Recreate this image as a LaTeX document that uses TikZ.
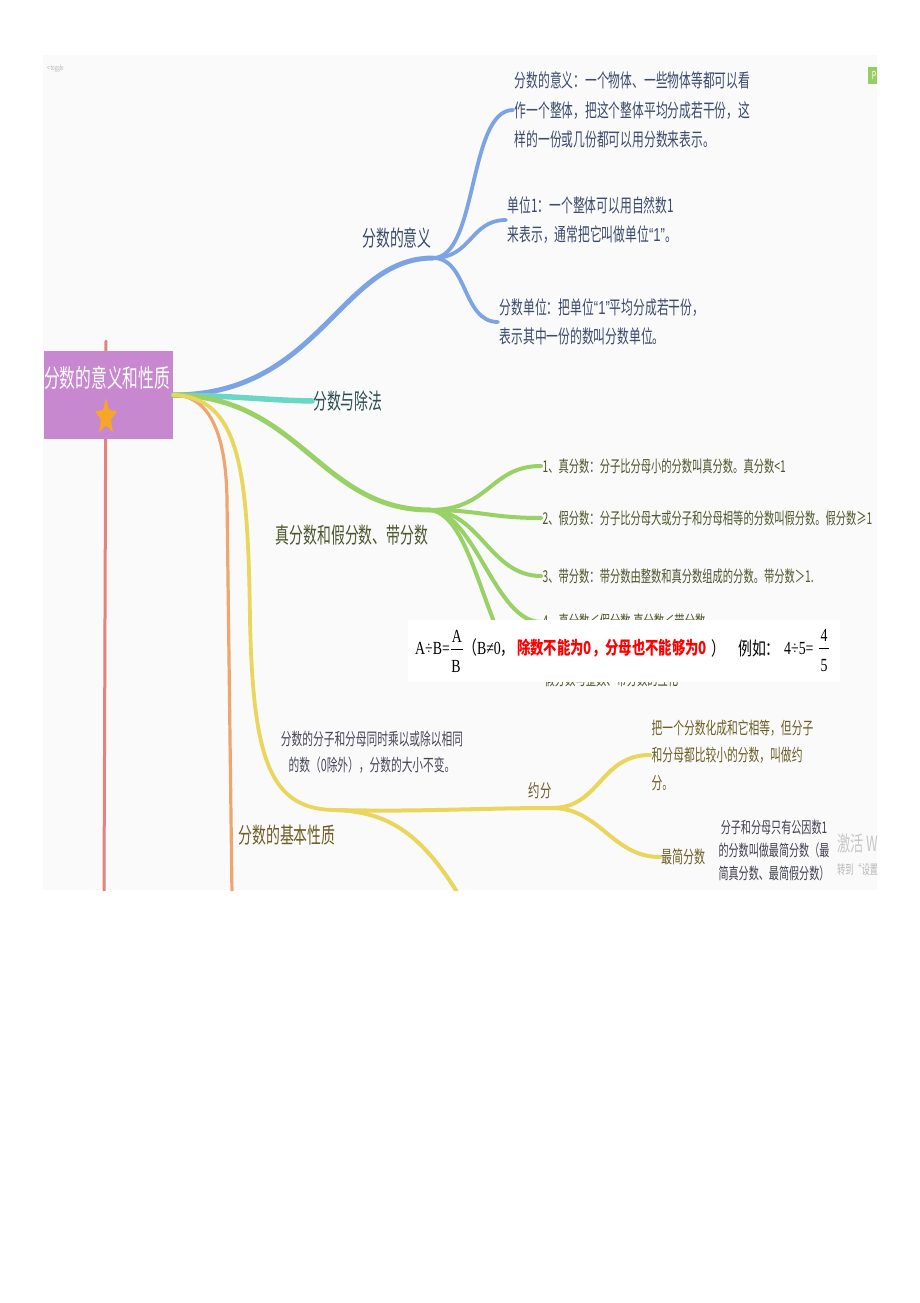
\documentclass[tikz,border=0pt]{standalone}
\usepackage{fontspec}
\usepackage{xcolor}
\usepackage{tikz}
\usetikzlibrary{calc}
\usetikzlibrary{positioning}
\setmainfont{Noto Sans CJK SC}
\newfontfamily\cjk[FakeStretch=0.63]{Noto Sans CJK SC}
\newfontfamily\latinq[FakeStretch=0.7]{Liberation Sans}
\newfontfamily\formcjk[FakeStretch=0.75]{Noto Sans CJK SC}
\newfontfamily\formserif[FakeStretch=0.75]{Liberation Serif}
\newcommand*{\qone}{{\latinq “1”}}
\definecolor{rootpurple}{RGB}{200,136,208}
\definecolor{starorange}{RGB}{247,166,40}
\definecolor{lineblue}{RGB}{124,164,228}
\definecolor{lineteal}{RGB}{106,214,196}
\definecolor{linegreen}{RGB}{152,210,102}
\definecolor{lineyellow}{RGB}{234,214,92}
\definecolor{lineorange}{RGB}{240,164,110}
\definecolor{linered}{RGB}{228,130,126}
\definecolor{textblue}{RGB}{60,74,108}
\definecolor{textteal}{RGB}{44,78,80}
\definecolor{textgreen}{RGB}{76,86,44}
\definecolor{textyellow}{RGB}{108,94,36}
\definecolor{textgray}{RGB}{70,70,88}
\definecolor{bggray}{RGB}{250,250,250}
\definecolor{badgegreen}{RGB}{150,206,100}
\tikzstyle{rootnode}=[fill=rootpurple, shape=rectangle, minimum width=129pt, minimum height=88pt, inner sep=0pt]
\tikzstyle{roottext}=[text=white, font=\cjk\fontsize{25}{28}\selectfont, inner sep=0pt]
\tikzstyle{branchtext}=[font=\cjk\fontsize{22}{26}\selectfont, inner sep=1pt]
\tikzstyle{blueleaf}=[text=textblue, font=\cjk\fontsize{18.7}{29.5}\selectfont, align=left, anchor=west, inner sep=1.5pt]
\tikzstyle{greenleaf}=[text=textgreen, font=\cjk\fontsize{16.3}{20}\selectfont, anchor=west, inner sep=1.5pt]
\tikzstyle{yellowlabel}=[text=textyellow, font=\cjk\fontsize{18}{22}\selectfont, inner sep=1pt]
\tikzstyle{yellowleaf}=[text=textyellow, font=\cjk\fontsize{17.1}{27.5}\selectfont, align=left, anchor=west, inner sep=1.5pt]
\tikzstyle{notetext}=[text=textgray, font=\cjk\fontsize{17}{25.5}\selectfont, align=center, inner sep=1pt]
\tikzstyle{formtext}=[font=\formcjk\fontsize{18.5}{22}\selectfont, anchor=west, inner sep=0pt]
\tikzstyle{formbox}=[fill=white, shape=rectangle, minimum width=432pt, minimum height=62pt, inner sep=0pt]
\tikzstyle{bluebranch}=[draw=lineblue, line width=5pt, line cap=round]
\tikzstyle{blueleafline}=[draw=lineblue, line width=3.8pt, line cap=round]
\tikzstyle{tealbranch}=[draw=lineteal, line width=5.5pt, line cap=round]
\tikzstyle{greenbranch}=[draw=linegreen, line width=5pt, line cap=round]
\tikzstyle{greenleafline}=[draw=linegreen, line width=4pt, line cap=round]
\tikzstyle{yellowbranch}=[draw=lineyellow, line width=3.8pt, line cap=round]
\tikzstyle{yellowleafline}=[draw=lineyellow, line width=4pt, line cap=round]
\tikzstyle{orangebranch}=[draw=lineorange, line width=3.2pt, line cap=round]
\tikzstyle{redbranch}=[draw=linered, line width=3pt, line cap=round]

\begin{document}
\begin{tikzpicture}[x=1pt, y=-1pt]
\useasboundingbox (0,0) rectangle (920,1303);
\fill[bggray] (43,55) rectangle (877,890);
\begin{scope}
\clip (43,55) rectangle (877,890);

\coordinate (redtop) at (106,341);
\coordinate (redend) at (104,895);
\coordinate (orangeend) at (232,895);
\coordinate (yiyij) at (433,258);
\coordinate (zhenj) at (430,510);
\coordinate (xingzhij) at (336,810);
\coordinate (yuefenj) at (552,808);
\coordinate (xingzhiend) at (460,897);

\draw[redbranch] (redtop) -- (redend);

\node [rootnode] (root) at (108.5,395) {};
\node [roottext] (roottitle) at (107,378) {分数的意义和性质};
\fill[starorange, rounded corners=0.8pt, shift={(106,417)}] (0,-19) -- (-3.1,-6.8) -- (-11.2,-5.9) -- (-5,2.6) -- (-6.9,15.4) -- (0,8.4) -- (6.9,15.4) -- (5,2.6) -- (11.2,-5.9) -- (3.1,-6.8) -- cycle;

\node [text=gray!60, font=\cjk\fontsize{7}{8}\selectfont, anchor=west, inner sep=0pt] (toggle) at (47,69) {< toggle};
\node [fill=badgegreen, text=white, font=\cjk\fontsize{11}{12}\selectfont, minimum width=12pt, minimum height=17pt, inner sep=0pt] (pbadge) at (874,75.5) {P};

\node [branchtext, text=textblue] (yiyi) at (397,238) {分数的意义};
\node [blueleaf] (yiyi1) at (513,110) {分数的意义：一个物体、一些物体等都可以看\\作一个整体，把这个整体平均分成若干份，这\\样的一份或几份都可以用分数来表示。};
\node [blueleaf] (yiyi2) at (506,220) {单位1：一个整体可以用自然数1\\来表示，通常把它叫做单位\qone。};
\node [blueleaf] (yiyi3) at (498,322) {分数单位：把单位\qone 平均分成若干份，\\表示其中一份的数叫分数单位。};

\node [branchtext, text=textteal, anchor=west] (chufa) at (312,401) {分数与除法};

\node [branchtext, text=textgreen] (zhenjia) at (352,535) {真分数和假分数、带分数};
\node [greenleaf] (zhen1) at (541,466) {1、真分数：分子比分母小的分数叫真分数。真分数<1};
\node [greenleaf] (zhen2) at (541,518) {2、假分数：分子比分母大或分子和分母相等的分数叫假分数。假分数≥1};
\node [greenleaf] (zhen3) at (541,576) {3、带分数：带分数由整数和真分数组成的分数。带分数＞1.};
\node [greenleaf] (zhen4) at (541,622) {4、真分数＜假分数,真分数＜带分数};
\node [greenleaf] (zhen5) at (543,679) {假分数与整数、带分数的互化};

\node [branchtext, text=textyellow] (xingzhi) at (287,835) {分数的基本性质};
\node [notetext] (xingzhinote) at (372,752) {分数的分子和分母同时乘以或除以相同\\的数（0除外），分数的大小不变。};
\node [yellowlabel] (yuefen) at (540,791) {约分};
\node [yellowleaf] (yuefen1) at (650,755) {把一个分数化成和它相等，但分子\\和分母都比较小的分数，叫做约\\分。};
\node [yellowlabel, font=\cjk\fontsize{17.5}{20}\selectfont, anchor=west] (zuijian) at (660,857) {最简分数};
\node [notetext, text=textgray!90!black, font=\cjk\fontsize{16}{23}\selectfont] (zuijian1) at (774,851) {分子和分母只有公因数1\\的分数叫做最简分数（最\\简真分数、最简假分数）};

\draw[bluebranch] (root.east) .. controls (320,395) and (340,258) .. (yiyij);
\draw[blueleafline] (yiyij) .. controls (478,258) and (468,110) .. (yiyi1.west);
\draw[blueleafline] (yiyij) .. controls (472,258) and (470,220) .. (yiyi2.west);
\draw[blueleafline] (yiyij) .. controls (468,258) and (462,322) .. (yiyi3.west);

\draw[tealbranch] (root.east) .. controls (240,396) and (262,400) .. (chufa.west);

\draw[greenbranch] (root.east) .. controls (300,396) and (320,510) .. (zhenj);
\draw[greenleafline] (zhenj) .. controls (490,510) and (490,466) .. (zhen1.west);
\draw[greenleafline] (zhenj) .. controls (480,510) and (490,518) .. (zhen2.west);
\draw[greenleafline] (zhenj) .. controls (480,511) and (490,576) .. (zhen3.west);
\draw[greenleafline] (zhenj) .. controls (475,512) and (495,622) .. (zhen4.west);
\draw[greenleafline] (zhenj) .. controls (480,515) and (488,680) .. (zhen5.west);

\draw[orangebranch] (root.east) .. controls (205,395) and (226,425) .. (227,500) -- (orangeend);

\draw[yellowbranch] (root.east) .. controls (240,397) and (248,470) .. (250,620) .. controls (253,760) and (270,810) .. (xingzhij);
\draw[yellowleafline] (xingzhij) .. controls (420,812) and (480,808) .. (yuefenj);
\draw[yellowleafline] (xingzhij) .. controls (385,812) and (420,830) .. (xingzhiend);
\draw[yellowleafline] (yuefenj) .. controls (600,808) and (600,755) .. (yuefen1.west);
\draw[yellowleafline] (yuefenj) .. controls (600,808) and (612,857) .. (zuijian.west);

\node [formbox] (formulabox) at (624,651) {};
\node [formtext] (eqab) at (415,648) {\formserif A÷B=};
\node [formtext, anchor=center] (fraca) at (457,636) {\formserif A};
\node [formtext, anchor=center] (fracb) at (456,666) {\formserif B};
\draw[line width=0.9pt] ($(fraca.south)+(-6,7)$) -- ($(fraca.south)+(6,7)$);
\node [formtext] (cond) at (463,648) {（\formserif B≠0\formcjk ，};
\node [formtext, text=red, font=\formcjk\bfseries\fontsize{17.8}{22}\selectfont] (rule) at (517,648) {除数不能为0，分母也不能够为0};
\node [formtext] (closing) at (711,648) {）};
\node [formtext] (example) at (738,648) {例如：};
\node [formtext] (eqfour) at (784,648) {\formserif 4÷5=};
\node [formtext, anchor=center] (fracfour) at (824,635) {\formserif 4};
\node [formtext, anchor=center] (fracfive) at (824,666) {\formserif 5};
\draw[line width=0.9pt] ($(fracfour.south)+(-5,7)$) -- ($(fracfour.south)+(5,7)$);

\node [text=black!22, font=\cjk\fontsize{21}{24}\selectfont, anchor=west, inner sep=0pt] (jihuo) at (837,844) {激活 W};
\node [text=black!28, font=\cjk\fontsize{13}{15}\selectfont, anchor=west, inner sep=0pt] (zhuandao) at (837,870) {转到“设置};
\end{scope}
\end{tikzpicture}
\end{document}
